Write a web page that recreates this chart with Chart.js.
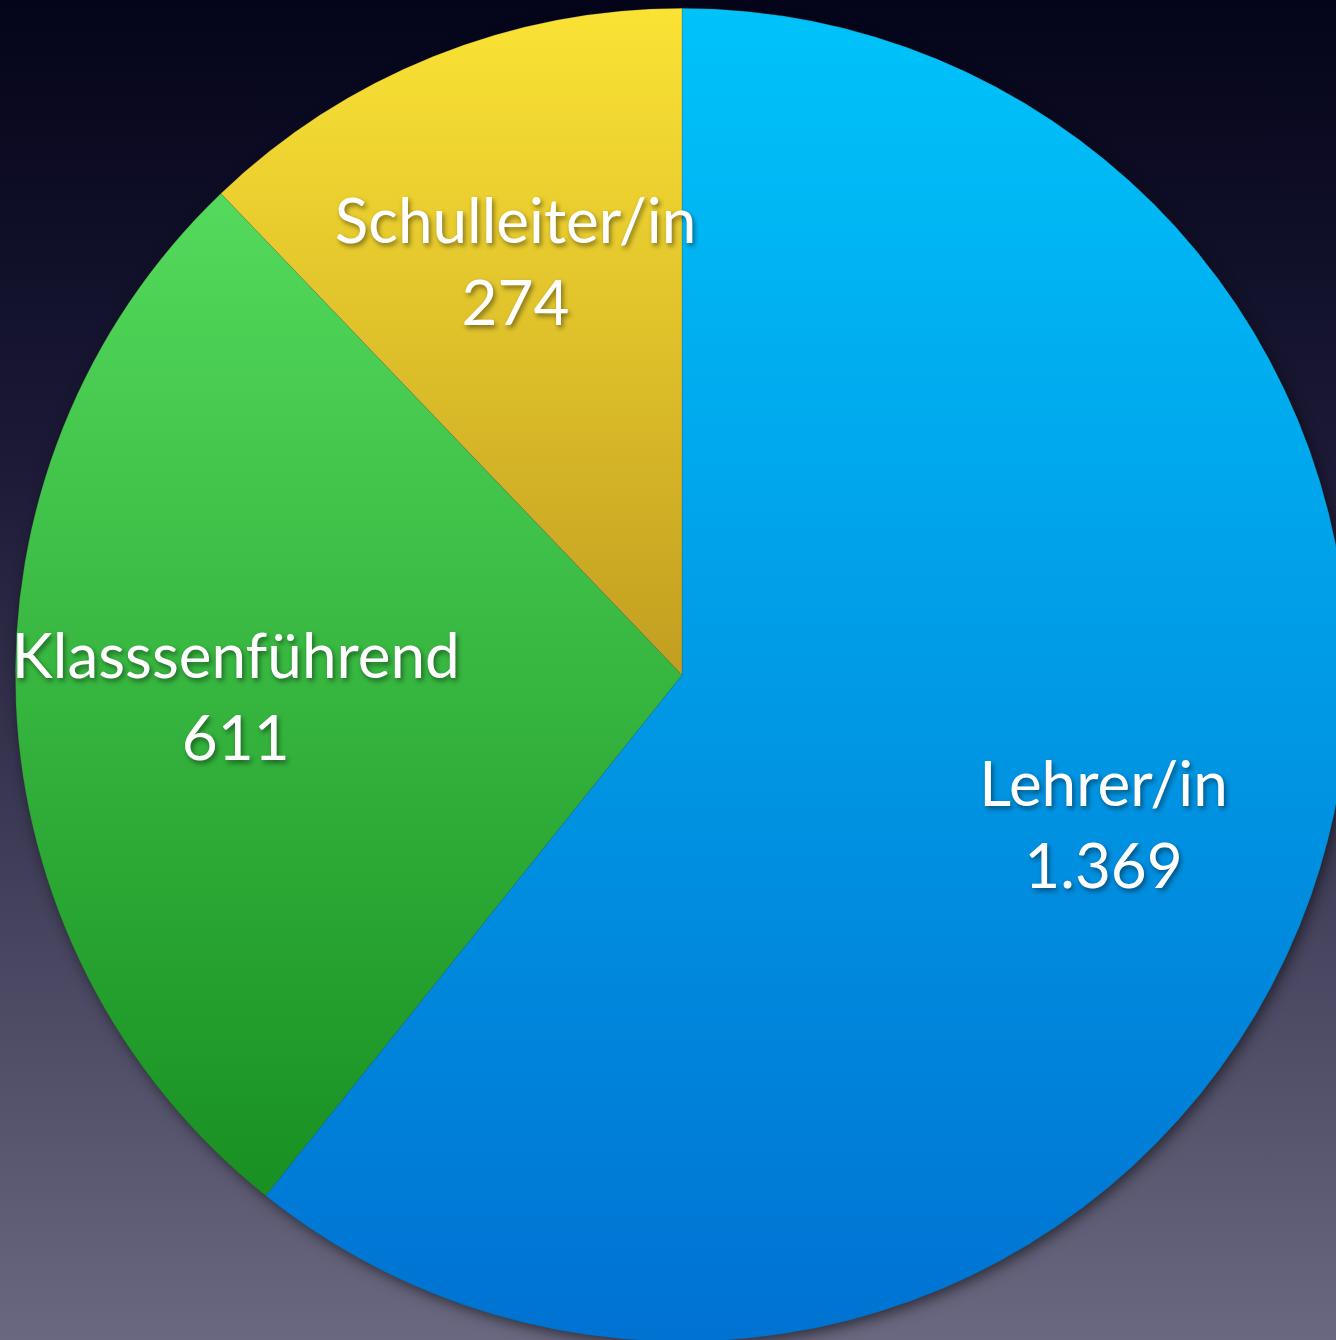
<!DOCTYPE html>
<html>
<head>
<meta charset="utf-8">
<script src="https://cdn.jsdelivr.net/npm/chart.js@4/dist/chart.umd.min.js"></script>
<style>
html,body{margin:0;padding:0;width:1336px;height:1340px;overflow:hidden;
background:linear-gradient(to bottom,#04041a 0%,#1c1a36 35%,#46445e 70%,#6a6880 100%);}
#wrap{position:absolute;left:0;top:0;width:1364px;height:1350px;}
</style>
</head>
<body>
<div id="wrap"><canvas id="c"></canvas></div>
<script>
const categories = ["Lehrer/in", "Klasssenführend", "Schulleiter/in"];
const values = [1369, 611, 274];
const topColors = ["#00c3fa", "#54da5c", "#fbe335"];
const bottomColors = ["#0072d2", "#189022", "#c29e20"];

function fmt(v){ return String(v).replace(/\B(?=(\d{3})+(?!\d))/g, "."); }

function sliceGradient(ctx){
  const chart = ctx.chart;
  const i = ctx.dataIndex;
  const area = chart.chartArea;
  if (!area || i === undefined) return topColors[i || 0];
  const cx = (area.left + area.right) / 2, cy = (area.top + area.bottom) / 2;
  const r = Math.min(area.right - area.left, area.bottom - area.top) / 2;
  const total = values.reduce((a,b)=>a+b,0);
  let cum = 0; for (let k=0;k<i;k++) cum += values[k];
  const a0 = -Math.PI/2 + cum/total*2*Math.PI;
  const a1 = a0 + values[i]/total*2*Math.PI;
  const ys = [cy, cy + Math.sin(a0)*r, cy + Math.sin(a1)*r];
  for (const t of [Math.PI/2, -Math.PI/2, 3*Math.PI/2]) {
    if (t > a0 && t < a1) ys.push(cy + Math.sin(t)*r);
  }
  const y0 = Math.min(...ys), y1 = Math.max(...ys);
  const g = chart.ctx.createLinearGradient(0, y0, 0, y1);
  g.addColorStop(0, topColors[i]);
  g.addColorStop(1, bottomColors[i]);
  return g;
}

const shadowPlugin = {
  id: 'pieShadow',
  beforeDatasetsDraw(chart){
    const el = chart.getDatasetMeta(0).data[0];
    if (!el) return;
    const c = chart.ctx;
    c.save();
    c.shadowColor = 'rgba(0,0,0,0.55)';
    c.shadowBlur = 14;
    c.shadowOffsetX = 3;
    c.shadowOffsetY = 5;
    c.beginPath();
    c.arc(el.x, el.y, el.outerRadius - 1, 0, Math.PI*2);
    c.fillStyle = '#0080d8';
    c.fill();
    c.restore();
  }
};

const labelPlugin = {
  id: 'sliceLabels',
  afterDatasetsDraw(chart){
    const c = chart.ctx;
    const meta = chart.getDatasetMeta(0);
    c.save();
    c.font = '62px Lato, "Open Sans", sans-serif';
    c.textAlign = 'center';
    c.textBaseline = 'middle';
    c.fillStyle = '#ffffff';
    c.shadowColor = 'rgba(0,0,0,0.45)';
    c.shadowBlur = 5;
    c.shadowOffsetX = 2;
    c.shadowOffsetY = 3;
    meta.data.forEach((el, i) => {
      const mid = (el.startAngle + el.endAngle) / 2;
      const rr = el.outerRadius * 0.67;
      const x = el.x + Math.cos(mid) * rr;
      const y = el.y + Math.sin(mid) * rr + 4;
      c.fillText(categories[i], x, y - 41);
      c.fillText(fmt(values[i]), x, y + 41);
    });
    c.restore();
  }
};

new Chart(document.getElementById('c'), {
  type: 'pie',
  data: {
    labels: categories,
    datasets: [{
      data: values,
      backgroundColor: sliceGradient,
      borderWidth: 0.6,
      borderColor: 'rgba(60,60,40,0.35)',
      hoverOffset: 0
    }]
  },
  options: {
    responsive: true,
    maintainAspectRatio: false,
    animation: false,
    layout: { padding: 8 },
    plugins: { legend: { display: false }, tooltip: { enabled: false } },
    events: []
  },
  plugins: [shadowPlugin, labelPlugin]
});
</script>
</body>
</html>
